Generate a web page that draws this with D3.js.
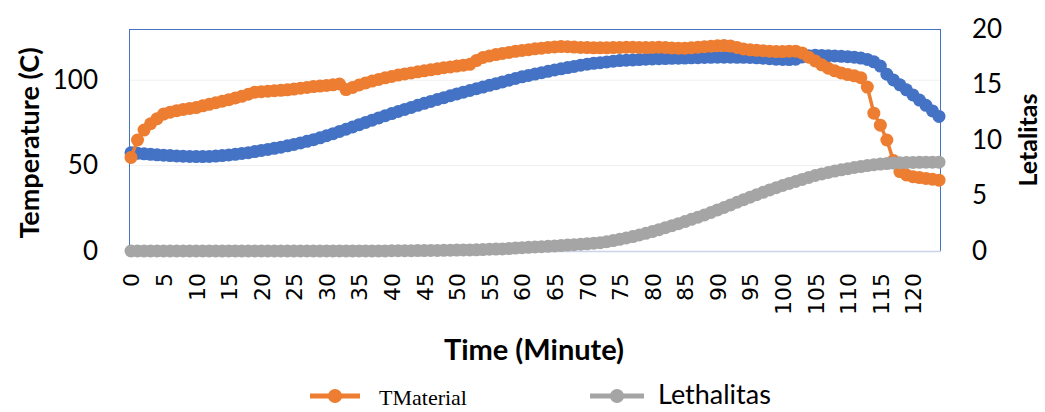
<!DOCTYPE html>
<html>
<head>
<meta charset="utf-8">
<script src="https://cdn.jsdelivr.net/npm/d3@7"></script>
<style>
  body { margin: 0; background: #fff; }
  svg { display: block; }
</style>
</head>
<body>
<div id="chart"></div>
<script>
// minutes on the category axis
var minutes = [
  0, 1, 2, 3, 4, 5, 6, 7, 8, 9, 10, 11, 12, 13, 14, 15, 16, 17, 18, 19,
  20, 21, 22, 23, 24, 25, 26, 27, 28, 29, 30, 31, 32, 33, 34, 35, 36, 37, 38, 39,
  40, 41, 42, 43, 44, 45, 46, 47, 48, 49, 50, 51, 52, 53, 54, 55, 56, 57, 58, 59,
  60, 61, 62, 63, 64, 65, 66, 67, 68, 69, 70, 71, 72, 73, 74, 75, 76, 77, 78, 79,
  80, 81, 82, 83, 84, 85, 86, 87, 88, 89, 90, 91, 92, 93, 94, 95, 96, 97, 98, 99,
  100, 101, 102, 103, 104, 105, 106, 107, 108, 109, 110, 111, 112, 113, 114, 115, 116, 117, 118, 119,
  120, 121, 122, 123, 124
];

// blue series (medium temperature, C)
var tMedium = [
  57.5, 57.2, 56.9, 56.6, 56.3, 56.1, 55.9, 55.7, 55.5, 55.4, 55.3, 55.3, 55.4, 55.6, 55.9, 56.2, 56.6, 57.1, 57.6, 58.2,
  58.9, 59.5, 60.1, 60.8, 61.6, 62.4, 63.3, 64.2, 65.2, 66.3, 67.5, 68.7, 70, 71.3, 72.6, 74, 75.3, 76.6, 77.9, 79.2,
  80.5, 81.7, 82.9, 84.1, 85.3, 86.5, 87.6, 88.7, 89.8, 90.9, 92, 93, 94, 95, 96, 97, 98, 99, 100, 101,
  102, 102.8, 103.6, 104.4, 105.2, 106, 106.7, 107.4, 108.1, 108.8, 109.4, 109.9, 110.3, 110.7, 111.1, 111.5, 111.7, 111.9, 112.1, 112.3,
  112.5, 112.6, 112.7, 112.8, 112.9, 113, 113.1, 113.2, 113.3, 113.4, 113.5, 113.5, 113.5, 113.4, 113.4, 113.3, 113.1, 112.9, 112.6, 112.3,
  112.2, 112.1, 112.3, 113.6, 114.4, 114.6, 114.5, 114.4, 114.2, 114, 113.8, 113.5, 113, 112.2, 110.8, 108.3, 103.5, 100.2, 97.3, 94.4,
  91.4, 88.4, 85.3, 82, 78.8
];

// orange series TMaterial (C)
var tMaterial = [
  54.8, 65, 70.8, 74.5, 77.5, 80.2, 81.3, 82.2, 82.9, 83.5, 84, 85, 85.9, 86.8, 87.7, 88.6, 89.6, 90.6, 91.8, 93,
  93.3, 93.6, 93.9, 94.1, 94.4, 94.8, 95.3, 95.8, 96.3, 96.6, 96.9, 97.3, 97.8, 94.5, 95.8, 97.2, 98.4, 99.5, 100.5, 101.4,
  102.2, 103, 103.7, 104.3, 104.9, 105.5, 106.1, 106.7, 107.3, 107.8, 108.3, 108.8, 109.3, 111.5, 113.3, 114.2, 115, 115.7, 116.3, 116.9,
  117.4, 117.9, 118.4, 118.8, 119.2, 119.5, 119.7, 119.6, 119.4, 119.2, 119.1, 119, 119, 119, 119.1, 119.2, 119.3, 119.3, 119.2, 119.1,
  119.2, 119.3, 119.1, 118.9, 118.8, 118.8, 119, 119.3, 119.6, 119.9, 120.2, 120.3, 120, 119.2, 118.3, 117.8, 117.5, 117.3, 117, 116.8,
  116.8, 117, 117, 116, 113.5, 111.3, 109, 107, 105.5, 104.3, 103.3, 102.6, 101.5, 96, 80.7, 73.7, 65, 53, 46.5, 44.5,
  43.5, 43, 42.5, 42, 41.5
];

// grey series Lethalitas (right axis)
var lethalitas = [
  0, 0, 0, 0, 0, 0, 0, 0, 0, 0, 0, 0, 0, 0, 0, 0, 0, 0, 0, 0,
  0, 0, 0, 0, 0, 0, 0, 0, 0, 0, 0.01, 0.01, 0.01, 0.01, 0.01, 0.01, 0.01, 0.01, 0.01, 0.01,
  0.02, 0.02, 0.03, 0.03, 0.04, 0.04, 0.05, 0.05, 0.06, 0.07, 0.08, 0.09, 0.1, 0.11, 0.13, 0.15, 0.17, 0.19, 0.22, 0.26,
  0.3, 0.33, 0.36, 0.39, 0.42, 0.45, 0.49, 0.53, 0.57, 0.61, 0.65, 0.7, 0.75, 0.84, 0.94, 1.05, 1.17, 1.3, 1.44, 1.59,
  1.75, 1.92, 2.1, 2.28, 2.46, 2.65, 2.85, 3.05, 3.25, 3.47, 3.7, 3.92, 4.15, 4.39, 4.62, 4.85, 5.07, 5.29, 5.5, 5.7,
  5.9, 6.09, 6.27, 6.45, 6.63, 6.8, 6.94, 7.07, 7.2, 7.31, 7.42, 7.52, 7.61, 7.7, 7.77, 7.83, 7.88, 7.92, 7.95, 7.97,
  7.98, 7.99, 8, 8, 8
];

var xTicks = [0, 5, 10, 15, 20, 25, 30, 35, 40, 45, 50, 55, 60, 65, 70, 75, 80, 85, 90, 95, 100, 105, 110, 115, 120];
var leftTicks = [0, 50, 100];
var rightTicks = [0, 5, 10, 15, 20];
var gridTicks = [50, 100];

var width = 1045, height = 412;
var plot = { left: 129, right: 940, top: 29, bottom: 251 };

var blue = "#4472C4", orange = "#ED7D31", grey = "#A5A5A5";

var svg = d3.select("#chart").append("svg")
  .attr("width", width)
  .attr("height", height);

var x = d3.scaleLinear().domain([0, 124]).range([131, 939]);
var yLeft = d3.scaleLinear().domain([0, 130]).range([plot.bottom, plot.top]);
var yRight = d3.scaleLinear().domain([0, 20]).range([plot.bottom, plot.top]);

// faint gridlines
svg.append("g").selectAll("line")
  .data(gridTicks)
  .enter().append("line")
  .attr("x1", plot.left).attr("x2", plot.right)
  .attr("y1", function (d) { return yLeft(d); })
  .attr("y2", function (d) { return yLeft(d); })
  .attr("stroke", "#f0f0f0")
  .attr("stroke-width", 1);

// plot frame
svg.append("rect")
  .attr("x", plot.left + 0.5).attr("y", plot.top + 0.5)
  .attr("width", plot.right - plot.left).attr("height", plot.bottom - plot.top)
  .attr("fill", "none")
  .attr("stroke", blue)
  .attr("stroke-width", 1);

svg.append("line")
  .attr("x1", plot.left).attr("x2", plot.right + 1)
  .attr("y1", plot.bottom + 0.5).attr("y2", plot.bottom + 0.5)
  .attr("stroke", "#c9d4ec")
  .attr("stroke-width", 1.5);

// axes
var leftAxis = svg.append("g")
  .attr("transform", "translate(" + plot.left + ",0)")
  .call(d3.axisLeft(yLeft).tickValues(leftTicks).tickSize(0).tickPadding(31));

var rightAxis = svg.append("g")
  .attr("transform", "translate(" + plot.right + ",0)")
  .call(d3.axisRight(yRight).tickValues(rightTicks).tickSize(0).tickPadding(32));

var bottomAxis = svg.append("g")
  .attr("transform", "translate(0," + plot.bottom + ")")
  .call(d3.axisBottom(x).tickValues(xTicks).tickSize(0));

[leftAxis, rightAxis, bottomAxis].forEach(function (g) {
  g.select(".domain").remove();
});

leftAxis.selectAll("text")
  .style("font-family", "Lato, 'Open Sans', sans-serif")
  .style("font-size", "26px")
  .attr("fill", "#000");

rightAxis.selectAll("text")
  .style("font-family", "Lato, 'Open Sans', sans-serif")
  .style("font-size", "26px")
  .attr("fill", "#000");

bottomAxis.selectAll("text")
  .attr("transform", "rotate(-90)")
  .attr("x", -22)
  .attr("y", 0)
  .attr("dy", "0.36em")
  .style("text-anchor", "end")
  .style("font-family", "'DejaVu Sans', sans-serif")
  .style("font-size", "22px")
  .attr("fill", "#000");

// series
function drawSeries(values, yScale, color) {
  var line = d3.line()
    .x(function (d, i) { return x(minutes[i]); })
    .y(function (d) { return yScale(d); });

  var g = svg.append("g");
  g.append("path")
    .datum(values)
    .attr("d", line)
    .attr("fill", "none")
    .attr("stroke", color)
    .attr("stroke-width", 3.5);

  g.selectAll("circle")
    .data(values)
    .enter().append("circle")
    .attr("cx", function (d, i) { return x(minutes[i]); })
    .attr("cy", function (d) { return yScale(d); })
    .attr("r", 6.5)
    .attr("fill", color);
}

drawSeries(tMedium, yLeft, blue);
drawSeries(tMaterial, yLeft, orange);
drawSeries(lethalitas, yRight, grey);

// axis titles
svg.append("text")
  .attr("transform", "translate(39,143) rotate(-90)")
  .attr("text-anchor", "middle")
  .style("font-family", "Lato, 'Open Sans', sans-serif")
  .style("font-weight", "bold")
  .style("font-size", "27px")
  .text("Temperature (C)");

svg.append("text")
  .attr("transform", "translate(1037,140) rotate(-90)")
  .attr("text-anchor", "middle")
  .style("font-family", "Lato, 'Open Sans', sans-serif")
  .style("font-weight", "bold")
  .style("font-size", "25px")
  .text("Letalitas");

svg.append("text")
  .attr("x", 534).attr("y", 360)
  .attr("text-anchor", "middle")
  .style("font-family", "Lato, 'Open Sans', sans-serif")
  .style("font-weight", "bold")
  .style("font-size", "29px")
  .text("Time (Minute)");

// legend
var legend = svg.append("g");

legend.append("line")
  .attr("x1", 310).attr("x2", 360).attr("y1", 396).attr("y2", 396)
  .attr("stroke", orange).attr("stroke-width", 5);
legend.append("circle")
  .attr("cx", 335).attr("cy", 396).attr("r", 7).attr("fill", orange);
legend.append("text")
  .attr("x", 379).attr("y", 405)
  .style("font-family", "'Liberation Serif', serif")
  .style("font-size", "22px")
  .text("TMaterial");

legend.append("line")
  .attr("x1", 590).attr("x2", 644).attr("y1", 396).attr("y2", 396)
  .attr("stroke", grey).attr("stroke-width", 5);
legend.append("circle")
  .attr("cx", 617).attr("cy", 396).attr("r", 7).attr("fill", grey);
legend.append("text")
  .attr("x", 658).attr("y", 404)
  .style("font-family", "Lato, 'Open Sans', sans-serif")
  .style("font-size", "27px")
  .text("Lethalitas");
</script>
</body>
</html>
